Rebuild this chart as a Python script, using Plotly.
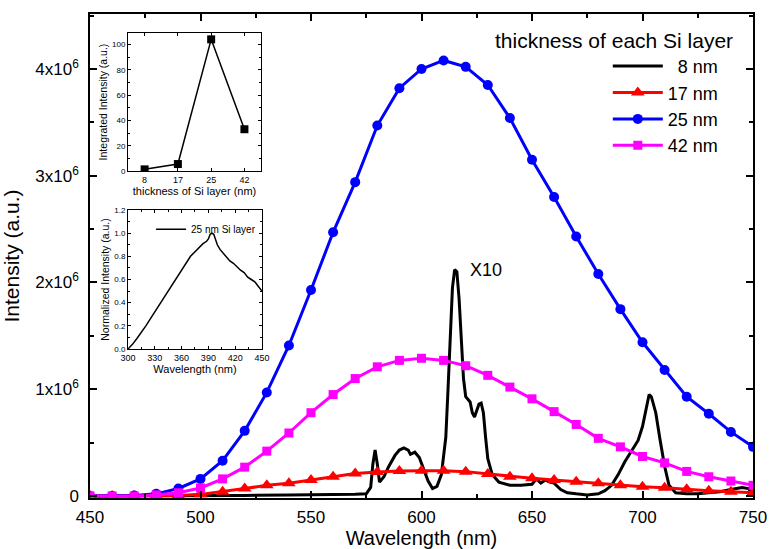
import plotly.graph_objects as go

# ---------------- main data ----------------
wl_markers = [450, 460, 470, 480, 490, 500, 510, 520, 530, 540, 550, 560, 570, 580, 590, 600,
              610, 620, 630, 640, 650, 660, 670, 680, 690, 700, 710, 720, 730, 740, 750]

i_17nm = [0.0, 0.0, 0.0, 0.0, 0.005, 0.015, 0.04, 0.07, 0.10, 0.12, 0.15, 0.18, 0.21, 0.225, 0.235, 0.237,
          0.237, 0.228, 0.206, 0.18, 0.165, 0.15, 0.134, 0.12, 0.10, 0.087, 0.078, 0.062, 0.05, 0.04, 0.03]

i_25nm = [0.0, 0.0, 0.005, 0.02, 0.07, 0.16, 0.33, 0.61, 0.97, 1.41, 1.93, 2.47, 2.94, 3.47, 3.82, 4.0,
          4.08, 4.02, 3.85, 3.54, 3.15, 2.8, 2.43, 2.08, 1.75, 1.44, 1.18, 0.93, 0.77, 0.60, 0.46]

i_42nm = [0.0, 0.0, 0.0, 0.01, 0.03, 0.075, 0.16, 0.27, 0.42, 0.59, 0.78, 0.95, 1.1, 1.21, 1.27, 1.29,
          1.27, 1.22, 1.13, 1.02, 0.91, 0.79, 0.67, 0.54, 0.46, 0.37, 0.31, 0.23, 0.18, 0.14, 0.10]

wl_8nm = [450, 500, 520, 540, 560, 570, 575, 577, 578, 579, 580, 581, 583, 585, 588, 590, 592, 594,
          595, 597, 599, 601, 603, 605, 607, 609, 611, 612, 613, 614, 615, 616, 617, 618, 619, 620,
          621, 622, 623, 624, 625, 626, 627, 628, 629, 630, 632, 635, 640, 645, 650, 652, 654, 656,
          658, 660, 663, 666, 670, 675, 680, 683, 686, 689, 692, 695, 698, 700, 702, 703, 704, 706,
          708, 710, 712, 715, 720, 725, 730, 735, 740, 745, 748, 750]
i_8nm = [0.0, 0.0, 0.005, 0.01, 0.01, 0.015, 0.02, 0.08, 0.3, 0.43, 0.3, 0.13, 0.18, 0.27, 0.38, 0.43, 0.45, 0.43,
         0.39, 0.41, 0.36, 0.25, 0.14, 0.07, 0.09, 0.2, 0.55, 1.0, 1.5, 1.95, 2.12, 2.1, 1.85, 1.45, 1.1, 0.93,
         0.9, 0.88, 0.78, 0.74, 0.8, 0.86, 0.87, 0.78, 0.55, 0.35, 0.2, 0.13, 0.1, 0.1, 0.11, 0.16, 0.12, 0.15,
         0.13, 0.12, 0.06, 0.03, 0.02, 0.01, 0.02, 0.05, 0.1, 0.2, 0.32, 0.42, 0.52, 0.65, 0.85, 0.95, 0.93, 0.78,
         0.52, 0.28, 0.1, 0.03, 0.02, 0.02, 0.03, 0.04, 0.06, 0.08, 0.07, 0.0]

y_tickvals = [0, 1, 2, 3, 4]
y_ticktext = ["0", "1x10<sup>6</sup>", "2x10<sup>6</sup>", "3x10<sup>6</sup>", "4x10<sup>6</sup>"]
x_tickvals = [450, 500, 550, 600, 650, 700, 750]

# ---------------- inset 1 data ----------------
thick_cat = ["8", "17", "25", "42"]
integ_int = [1.3, 5.5, 104, 33]

# ---------------- inset 2 data ----------------
pl_wl = [300, 305, 310, 315, 320, 325, 330, 335, 340, 345, 350, 355, 360, 365, 370, 375, 380, 384, 388,
         390, 392, 394, 396, 398, 400, 403, 406, 410, 414, 418, 422, 426, 430, 434, 438, 442, 446, 450]
pl_norm = [0.0, 0.04, 0.09, 0.14, 0.2, 0.26, 0.32, 0.38, 0.45, 0.51, 0.57, 0.63, 0.69, 0.75, 0.8, 0.84,
           0.88, 0.91, 0.93, 0.95, 0.99, 1.0, 0.99, 0.95, 0.9, 0.86, 0.83, 0.8, 0.76, 0.74, 0.71, 0.68,
           0.66, 0.62, 0.6, 0.58, 0.54, 0.5]

SCALE = 1e6
FONT = "Liberation Sans, Arial, sans-serif"

fig = go.Figure()

fig.add_trace(go.Scatter(x=wl_8nm, y=[v * SCALE for v in i_8nm], mode="lines",
                         line=dict(color="black", width=3), name="\u20078 nm"))
fig.add_trace(go.Scatter(x=wl_markers, y=[v * SCALE for v in i_17nm], mode="lines+markers",
                         line=dict(color="#FF0000", width=3),
                         marker=dict(symbol="triangle-up", size=12, color="#FF0000"), name="17 nm"))
fig.add_trace(go.Scatter(x=wl_markers, y=[v * SCALE for v in i_25nm], mode="lines+markers",
                         line=dict(color="#0000FF", width=3),
                         marker=dict(symbol="circle", size=10, color="#0000FF"), name="25 nm"))
fig.add_trace(go.Scatter(x=wl_markers, y=[v * SCALE for v in i_42nm], mode="lines+markers",
                         line=dict(color="#FF00FF", width=3),
                         marker=dict(symbol="square", size=9, color="#FF00FF"), name="42 nm"))

# inset 1
fig.add_trace(go.Scatter(x=thick_cat, y=integ_int, mode="lines+markers", xaxis="x2", yaxis="y2",
                         line=dict(color="black", width=1.5),
                         marker=dict(symbol="square", size=8, color="black"), showlegend=False))
# inset 2
fig.add_trace(go.Scatter(x=pl_wl, y=pl_norm, mode="lines", xaxis="x3", yaxis="y3",
                         line=dict(color="black", width=1.5), name="25 nm Si layer", legend="legend2"))

fig.add_annotation(x=629, y=2.12 * SCALE, text="X10", showarrow=False, xref="x", yref="y",
                   font=dict(size=18, color="black", family=FONT))
fig.add_annotation(xref="paper", yref="paper", x=(614 - 90) / 663, y=(498 - 40) / 484,
                   xanchor="center", yanchor="middle", text="thickness of each Si layer",
                   showarrow=False, font=dict(size=21, color="black", family=FONT))

axis_common = dict(showline=True, linecolor="black", mirror="ticks", ticks="inside",
                   tickcolor="black", showgrid=False, zeroline=False, automargin=False)

fig.update_layout(
    width=769, height=549,
    margin=dict(l=90, r=16, t=14, b=51),
    paper_bgcolor="white", plot_bgcolor="white",
    font=dict(family=FONT, color="black"),
    xaxis=dict(range=[450, 750], tickvals=x_tickvals, ticklen=7, tickwidth=1.5, linewidth=1.5,
               minor=dict(dtick=25, tick0=450, ticklen=4, ticks="inside", tickcolor="black"),
               tickfont=dict(size=17), ticklabelstandoff=3,
               title=dict(text="Wavelength (nm)", font=dict(size=20), standoff=3),
               **axis_common),
    yaxis=dict(range=[-0.019 * SCALE, 4.515 * SCALE], tickvals=[v * SCALE for v in y_tickvals],
               ticktext=y_ticktext, ticklen=7, tickwidth=1.5, linewidth=1.5,
               minor=dict(dtick=0.5 * SCALE, tick0=0, ticklen=4, ticks="inside", tickcolor="black"),
               tickfont=dict(size=17), ticklabelstandoff=6,
               title=dict(text="Intensity (a.u.)", font=dict(size=21), standoff=10),
               **axis_common),
    xaxis2=dict(domain=[0.0573, 0.258], anchor="y2", type="category", categoryorder="array",
                categoryarray=thick_cat, range=[-0.5, 3.5], ticklen=3, tickwidth=1, linewidth=1,
                tickfont=dict(size=9), title=dict(text="thickness of Si layer (nm)", font=dict(size=11), standoff=2),
                **axis_common),
    yaxis2=dict(domain=[0.6756, 0.9607], anchor="x2", range=[0, 109], dtick=20, ticklen=3, tickwidth=1,
                linewidth=1, minor=dict(dtick=10, ticklen=2, ticks="inside", tickcolor="black"),
                tickfont=dict(size=8), title=dict(text="Integrated Intensity (a.u.)", font=dict(size=10.5), standoff=2),
                **axis_common),
    xaxis3=dict(domain=[0.0573, 0.2594], anchor="y3", range=[300, 450], dtick=30, ticklen=3, tickwidth=1,
                linewidth=1, minor=dict(dtick=15, ticklen=2, ticks="inside", tickcolor="black"),
                tickfont=dict(size=9), title=dict(text="Wavelength (nm)", font=dict(size=11), standoff=2),
                **axis_common),
    yaxis3=dict(domain=[0.3079, 0.595], anchor="x3", range=[0, 1.2], dtick=0.2, tickformat=".1f",
                ticklen=3, tickwidth=1, linewidth=1,
                minor=dict(dtick=0.1, ticklen=2, ticks="inside", tickcolor="black"),
                tickfont=dict(size=8), title=dict(text="Normalized Intensity (a.u.)", font=dict(size=10.5), standoff=2),
                **axis_common),
    legend=dict(x=0.781, y=0.930, xanchor="left", yanchor="top", bgcolor="rgba(0,0,0,0)",
                font=dict(size=18, family=FONT), tracegroupgap=0, itemwidth=50),
    legend2=dict(x=0.258, y=0.585, xanchor="right", yanchor="top", bgcolor="rgba(0,0,0,0)",
                 font=dict(size=10, family=FONT), itemwidth=30),
)

fig.write_html("out.html", config={"displayModeBar": False},
               post_script="document.body.style.margin='0';document.body.style.overflow='hidden';")
